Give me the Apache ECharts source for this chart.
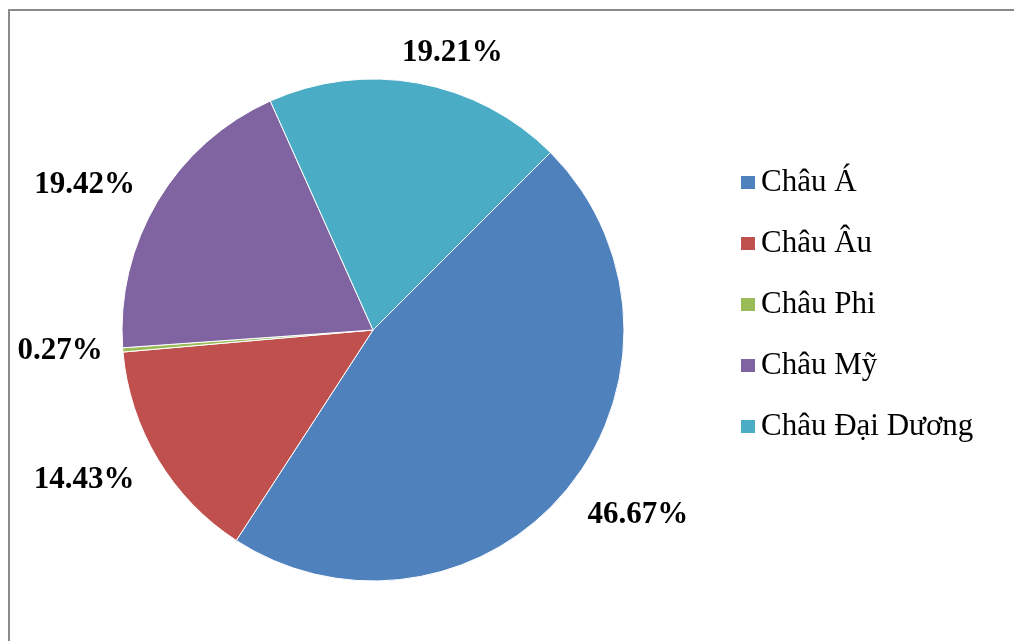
<!DOCTYPE html>
<html>
<head>
<meta charset="utf-8">
<script src="https://cdn.jsdelivr.net/npm/echarts@6/dist/echarts.min.js"></script>
<style>
  html, body { margin: 0; padding: 0; background: #fff; }
  #chart { width: 1014px; height: 641px; }
</style>
</head>
<body>
<div id="chart"></div>
<script>
// Regions and their shares (%)
const regions = ['Châu Á', 'Châu Âu', 'Châu Phi', 'Châu Mỹ', 'Châu Đại Dương'];
const shares = [46.67, 14.43, 0.27, 19.42, 19.21];
const colors = ['#4F81BD', '#C0504D', '#9BBB59', '#8064A2', '#4BACC6'];
// Per-slice leader lengths used to place the (hidden-line) outside labels
const leadLen = [43, 40, 15, 31, 31];
const leadLen2 = [-19, -16, 0, -9, -27];

const serif = '"Liberation Serif", "DejaVu Serif", serif';
const chart = echarts.init(document.getElementById('chart'), null, { renderer: 'canvas' });

chart.setOption({
  animation: false,
  backgroundColor: '#ffffff',
  color: colors,
  graphic: [{
    type: 'rect',
    shape: { x: 9, y: 10, width: 1030, height: 660 },
    style: { fill: 'none', stroke: '#8a8a8a', lineWidth: 2 },
    silent: true
  }],
  legend: {
    orient: 'vertical',
    left: 734,
    top: 162,
    itemWidth: 16,
    itemHeight: 15,
    itemGap: 30,
    icon: 'rect',
    data: regions,
    textStyle: {
      fontFamily: serif,
      fontSize: 31,
      lineHeight: 31,
      color: '#000'
    }
  },
  series: [{
    type: 'pie',
    center: [373, 330],
    radius: 251,
    startAngle: 45,
    clockwise: true,
    avoidLabelOverlap: false,
    itemStyle: { borderColor: '#ffffff', borderWidth: 1 },
    label: {
      show: true,
      position: 'outside',
      formatter: p => p.value.toFixed(2) + '%',
      fontFamily: serif,
      fontWeight: 'bold',
      fontSize: 31,
      color: '#000'
    },
    labelLine: { show: false },
    emphasis: { disabled: true },
    data: regions.map((name, i) => ({
      name,
      value: shares[i],
      labelLine: { show: false, length: leadLen[i], length2: leadLen2[i] }
    }))
  }]
});
</script>
</body>
</html>
